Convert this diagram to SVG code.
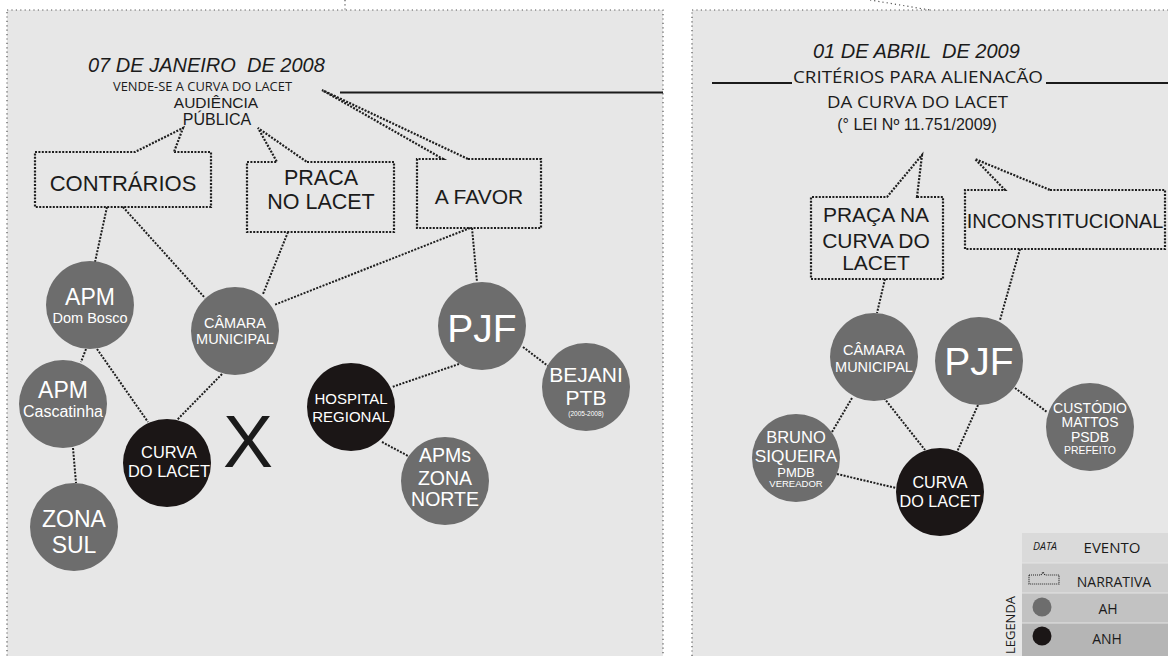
<svg xmlns="http://www.w3.org/2000/svg" width="1168" height="656" viewBox="0 0 1168 656">
<defs>
<style>
.panel{fill:#e7e7e7;stroke:#555;stroke-width:1.2;stroke-dasharray:1.2 3.2}
.dot{fill:none;stroke:#1e1e1e;stroke-width:2;stroke-dasharray:2 1.4}
.bub{fill:none;stroke:#1e1e1e;stroke-width:2.2;stroke-dasharray:2 1.4}
.ah{fill:#6d6d6d}
.anh{fill:#1b1616}
.w{fill:#fff;font-family:"Liberation Sans",Arial,sans-serif;text-anchor:middle}
.k{fill:#1b1b1b;font-family:"Liberation Sans",Arial,sans-serif;text-anchor:middle}
.ks{fill:#1b1b1b;font-family:"Liberation Sans",Arial,sans-serif;text-anchor:start;font-style:italic;white-space:pre}
.os{fill:#1b1b1b;font-family:"Open Sans","Liberation Sans",sans-serif;text-anchor:middle}
</style>
</defs>
<rect width="1168" height="656" fill="#fff"/>
<!-- panels -->
<rect class="panel" x="7" y="10" width="656" height="670"/>
<rect class="panel" x="692" y="10" width="500" height="670"/>
<path d="M345,0 V10" fill="none" stroke="#555" stroke-width="1.2" stroke-dasharray="1.2 3"/>
<path d="M870,0 L930,10" fill="none" stroke="#555" stroke-width="1.2" stroke-dasharray="1.2 3"/>

<!-- headers -->
<g id="event1">
<text class="ks" x="88" y="72" font-size="20" xml:space="preserve">07 DE JANEIRO  DE 2008</text>
<text class="os" x="202.5" y="90.5" font-size="12" textLength="179" lengthAdjust="spacingAndGlyphs">VENDE-SE A CURVA DO LACET</text>
<text class="k" x="216" y="108" font-size="15.5">AUDIÊNCIA</text>
<text class="k" x="217" y="125" font-size="16">PÚBLICA</text>
<path d="M340,92.5 H663" stroke="#1b1b1b" stroke-width="2"/>
</g>
<g id="event2">
<text class="ks" x="813" y="58" font-size="20" xml:space="preserve">01 DE ABRIL  DE 2009</text>
<text class="os" x="918" y="83" font-size="16.5" textLength="250" lengthAdjust="spacingAndGlyphs">CRITÉRIOS PARA ALIENACÃO</text>
<text class="os" x="917.5" y="108" font-size="16" textLength="181" lengthAdjust="spacingAndGlyphs">DA CURVA DO LACET</text>
<text class="k" x="917" y="130" font-size="16" xml:space="preserve">(° LEI Nº 11.751/2009)</text>
<path d="M712,83 H792 M1046,83 H1168" stroke="#1b1b1b" stroke-width="2"/>
</g>

<!-- narrative bubbles -->
<g id="contrarios">
<path class="bub" d="M174,152 L211,152 L211,207 L35,207 L35,152 L135,152 L183,128 Z"/>
<text class="k" x="123" y="191" font-size="22">CONTRÁRIOS</text>
</g>
<g id="praca">
<path class="bub" d="M307,162 L394,162 L394,232 L247,232 L247,162 L277,162 L258,128 Z"/>
<text class="k" x="321" y="185" font-size="21.5">PRACA</text>
<text class="k" x="321" y="209" font-size="21.5">NO LACET</text>
</g>
<g id="afavor">
<path class="bub" d="M468,159 L541,159 L541,228 L417,228 L417,159 L443,159 L322,90 Z"/>
<text class="k" x="479" y="204" font-size="21">A FAVOR</text>
</g>
<g id="pracana">
<path class="bub" d="M917,197 L943,197 L943,279 L811,279 L811,197 L887,197 L922,155 Z"/>
<text class="k" x="876" y="222" font-size="21">PRAÇA NA</text>
<text class="k" x="876" y="248" font-size="21">CURVA DO</text>
<text class="k" x="876" y="270" font-size="21">LACET</text>
</g>
<g id="inconst">
<path class="bub" d="M1050,190 L1165,190 L1165,249 L965,249 L965,190 L1005,190 L975,159 Z"/>
<text class="k" x="1065" y="228" font-size="20">INCONSTITUCIONAL</text>
</g>

<!-- connectors -->
<g id="connectors">
<path class="dot" d="M107,207 L95,262"/>
<path class="dot" d="M123,207 L205,298"/>
<path class="dot" d="M288,232 L263,294"/>
<path class="dot" d="M470,228 L274,305"/>
<path class="dot" d="M472,228 L477,282"/>
<path class="dot" d="M86,349 L81,362"/>
<path class="dot" d="M97,349 L148,422"/>
<path class="dot" d="M222,374 L177,420"/>
<path class="dot" d="M73,448 L76,483"/>
<path class="dot" d="M459,364 L392,387"/>
<path class="dot" d="M523,347 L548,366"/>
<path class="dot" d="M382,442 L410,457"/>
<path class="dot" d="M885,279 L877,313"/>
<path class="dot" d="M1020,249 L1000,320"/>
<path class="dot" d="M852,398 L832,432"/>
<path class="dot" d="M884,398 L925,450"/>
<path class="dot" d="M978,405 L957,452"/>
<path class="dot" d="M1015,388 L1047,412"/>
<path class="dot" d="M837,474 L896,488"/>
</g>

<!-- left nodes -->
<g id="apm-dombosco">
<circle class="ah" cx="90" cy="305" r="44"/>
<text class="w" x="90" y="305" font-size="23">APM</text>
<text class="w" x="90" y="323" font-size="14.5">Dom Bosco</text>
</g>
<g id="camara1">
<circle class="ah" cx="235" cy="331" r="44"/>
<text class="w" x="235" y="328" font-size="14.5">CÂMARA</text>
<text class="w" x="235" y="344" font-size="14.5">MUNICIPAL</text>
</g>
<g id="apm-cascatinha">
<circle class="ah" cx="63" cy="404" r="44"/>
<text class="w" x="63" y="398" font-size="23">APM</text>
<text class="w" x="63" y="417" font-size="16">Cascatinha</text>
</g>
<g id="curva1">
<circle class="anh" cx="167" cy="463" r="44"/>
<text class="w" x="169" y="458" font-size="16.4">CURVA</text>
<text class="w" x="169" y="477" font-size="16.4">DO LACET</text>
</g>
<text id="x-mark" class="k" x="248" y="467" font-size="75" fill="#111">X</text>
<g id="zonasul">
<circle class="ah" cx="74" cy="527" r="44"/>
<text class="w" x="74" y="527" font-size="23">ZONA</text>
<text class="w" x="74" y="553" font-size="23">SUL</text>
</g>
<g id="pjf1">
<circle class="ah" cx="482" cy="326" r="44"/>
<text class="w" x="482" y="342" font-size="39">PJF</text>
</g>
<g id="hospital">
<circle class="anh" cx="351" cy="407" r="44"/>
<text class="w" x="351" y="404" font-size="15">HOSPITAL</text>
<text class="w" x="351" y="422" font-size="15">REGIONAL</text>
</g>
<g id="bejani">
<circle class="ah" cx="586" cy="387" r="44"/>
<text class="w" x="586" y="382" font-size="21">BEJANI</text>
<text class="w" x="586" y="405" font-size="21">PTB</text>
<text class="w" x="586" y="415.5" font-size="6.5">(2005-2008)</text>
</g>
<g id="apms-norte">
<circle class="ah" cx="445" cy="481" r="44"/>
<text class="w" x="445" y="462" font-size="19.5">APMs</text>
<text class="w" x="445" y="485" font-size="19.5">ZONA</text>
<text class="w" x="445" y="506" font-size="19.5">NORTE</text>
</g>

<!-- right nodes -->
<g id="camara2">
<circle class="ah" cx="874" cy="357" r="44"/>
<text class="w" x="874" y="355" font-size="14.5">CÂMARA</text>
<text class="w" x="874" y="372" font-size="14.5">MUNICIPAL</text>
</g>
<g id="pjf2">
<circle class="ah" cx="979" cy="361" r="44"/>
<text class="w" x="979" y="375" font-size="39">PJF</text>
</g>
<g id="custodio">
<circle class="ah" cx="1090" cy="427" r="44"/>
<text class="w" x="1090" y="413" font-size="14">CUSTÓDIO</text>
<text class="w" x="1090" y="427" font-size="14">MATTOS</text>
<text class="w" x="1090" y="442" font-size="14">PSDB</text>
<text class="w" x="1090" y="454" font-size="10.4">PREFEITO</text>
</g>
<g id="bruno">
<circle class="ah" cx="796" cy="458" r="44"/>
<text class="w" x="796" y="443" font-size="16.5">BRUNO</text>
<text class="w" x="796" y="462" font-size="17.3">SIQUEIRA</text>
<text class="w" x="796" y="477" font-size="13">PMDB</text>
<text class="w" x="796" y="487" font-size="9.5">VEREADOR</text>
</g>
<g id="curva2">
<circle class="anh" cx="940" cy="492" r="44"/>
<text class="w" x="940" y="488" font-size="16.2">CURVA</text>
<text class="w" x="940" y="507" font-size="16.2">DO LACET</text>
</g>

<!-- legend -->
<g id="legend">
<rect x="1022" y="533" width="146" height="30" fill="#dadada"/>
<rect x="1022" y="563" width="146" height="30" fill="#cecece"/>
<rect x="1022" y="593" width="146" height="30" fill="#c2c2c2"/>
<rect x="1022" y="623" width="146" height="33" fill="#b5b5b5"/>
<path d="M1022,563 H1168 M1022,593 H1168 M1022,623 H1168" stroke="#e4e4e4" stroke-width="1"/>
<text class="os" x="1045" y="550" font-size="10.5" font-style="italic">DATA</text>
<text class="os" x="1112" y="553" font-size="15">EVENTO</text>
<path d="M1029,575 H1041 L1043,572 L1045,575 H1059 V584 H1029 Z" fill="none" stroke="#222" stroke-width="1.2" stroke-dasharray="1 1"/>
<text class="os" x="1114" y="587" font-size="14">NARRATIVA</text>
<circle class="ah" cx="1042" cy="607" r="9.5" fill="#7b7b7b"/>
<text class="os" x="1108" y="614" font-size="14">AH</text>
<circle class="anh" cx="1042" cy="636" r="9.5"/>
<text class="os" x="1107" y="644" font-size="14">ANH</text>
<text class="os" transform="translate(1015,625) rotate(-90)" font-size="13">LEGENDA</text>
</g>
</svg>
